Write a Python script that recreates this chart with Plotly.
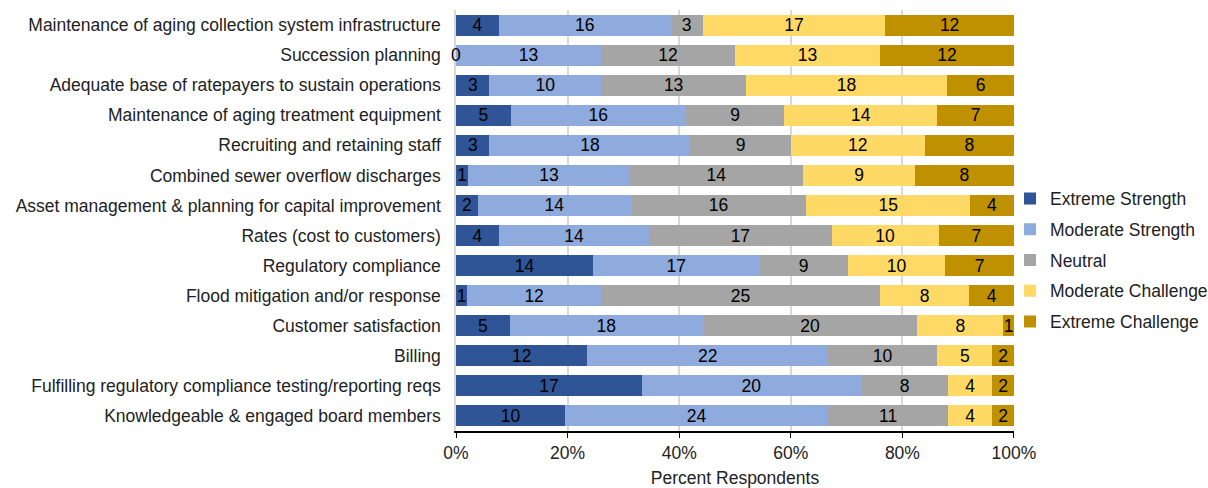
import plotly.graph_objects as go

categories = [
    "Maintenance of aging collection system infrastructure",
    "Succession planning",
    "Adequate base of ratepayers to sustain operations",
    "Maintenance of aging treatment equipment",
    "Recruiting and retaining staff",
    "Combined sewer overflow discharges",
    "Asset management & planning for capital improvement",
    "Rates (cost to customers)",
    "Regulatory compliance",
    "Flood mitigation and/or response",
    "Customer satisfaction",
    "Billing",
    "Fulfilling regulatory compliance testing/reporting reqs",
    "Knowledgeable & engaged board members",
]
extreme_strength = [4, 0, 3, 5, 3, 1, 2, 4, 14, 1, 5, 12, 17, 10]
moderate_strength = [16, 13, 10, 16, 18, 13, 14, 14, 17, 12, 18, 22, 20, 24]
neutral = [3, 12, 13, 9, 9, 14, 16, 17, 9, 25, 20, 10, 8, 11]
moderate_challenge = [17, 13, 18, 14, 12, 9, 15, 10, 10, 8, 8, 5, 4, 4]
extreme_challenge = [12, 12, 6, 7, 8, 8, 4, 7, 7, 4, 1, 2, 2, 2]

series = [
    ("Extreme Strength", extreme_strength, "#2F5597"),
    ("Moderate Strength", moderate_strength, "#8FAADC"),
    ("Neutral", neutral, "#A5A5A5"),
    ("Moderate Challenge", moderate_challenge, "#FFD966"),
    ("Extreme Challenge", extreme_challenge, "#BF9000"),
]

FONT = "Liberation Sans, Arial, sans-serif"
FS = 17.5
fig = go.Figure()
for name, vals, color in series:
    fig.add_trace(go.Bar(
        y=categories, x=vals, name=name, orientation="h",
        legendgroup=name,
        marker=dict(color=color, line=dict(width=0)),
        text=[str(v) if v > 0 else "" for v in vals],
        textposition="inside", insidetextanchor="middle",
        textangle=0, constraintext="none",
        textfont=dict(family=FONT, size=FS, color="black"),
        cliponaxis=False,
    ))

# zero-valued labels (shown at their stack position)
totals = [sum(s[1][i] for s in series) for i in range(len(categories))]
for i, cat in enumerate(categories):
    cum = 0
    for name, vals, color in series:
        if vals[i] == 0:
            fig.add_annotation(x=100 * cum / totals[i], y=cat, text="0",
                               showarrow=False, xanchor="center",
                               font=dict(family=FONT, size=FS, color="black"))
        cum += vals[i]

fig.update_layout(
    barmode="stack", barnorm="percent", bargap=0.3,
    width=1208, height=488,
    margin=dict(l=456, r=194, t=10, b=57, autoexpand=False),
    paper_bgcolor="white", plot_bgcolor="white",
    font=dict(family=FONT, size=FS, color="#222"),
    legend=dict(xref="container", yref="container",
                x=1010 / 1208, y=1 - 260 / 488, xanchor="left", yanchor="middle",
                traceorder="grouped", tracegroupgap=5,
                bgcolor="rgba(0,0,0,0)",
                font=dict(size=FS, color="#222"),
                itemwidth=30),
    xaxis=dict(range=[0, 100.001], tickvals=[0, 20, 40, 60, 80, 100],
               ticktext=["0%", "20%", "40%", "60%", "80%", "100%"],
               showgrid=True, gridcolor="#D9D9D9", gridwidth=1.5,
               showline=True, linecolor="black", linewidth=1.5,
               ticks="outside", ticklen=5, tickcolor="black",
               tickfont=dict(size=FS, color="#222"), ticklabelstandoff=0,
               title=dict(text="Percent Respondents", font=dict(size=FS, color="#222"), standoff=19),
               zeroline=False),
    yaxis=dict(autorange="reversed", ticks="", showline=True, linecolor="#D9D9D9",
               linewidth=1.5, tickfont=dict(size=FS, color="#222"), ticklabelstandoff=10),
)
fig.write_html("out.html")
